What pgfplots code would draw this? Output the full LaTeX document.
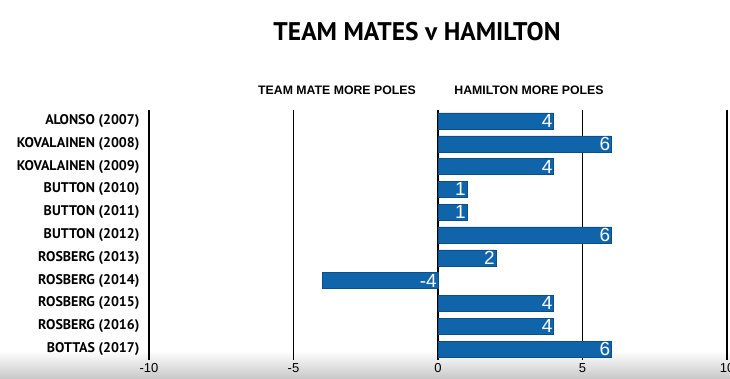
\documentclass[border=0pt]{standalone}
\usepackage{pgfplots}
\pgfplotsset{compat=1.18}
\usepackage{fontspec}
\setmainfont{Liberation Sans}
\newfontfamily\dinfont{PT Sans}
\definecolor{barblue}{HTML}{1065AA}
\definecolor{baredge}{HTML}{0B4F8A}
\begin{document}
\begin{tikzpicture}
\useasboundingbox (0pt,0pt) rectangle (730pt,379pt);
\shade[top color=white, bottom color=black!22] (0pt,0pt) rectangle (730pt,28pt);
\begin{axis}[
  at={(149pt,19pt)}, anchor=south west,
  scale only axis, width=578pt, height=250pt,
  xmin=-10, xmax=10, ymin=-0.48, ymax=10.48, y dir=reverse,
  axis line style={draw=none},
  xtick={-10,-5,0,5,10}, xmajorgrids, grid style={black, line width=1.1pt},
  major tick length=0pt,
  ytick={0,...,10},
  yticklabels={ALONSO (2007),KOVALAINEN (2008),KOVALAINEN (2009),BUTTON (2010),BUTTON (2011),BUTTON (2012),ROSBERG (2013),ROSBERG (2014),ROSBERG (2015),ROSBERG (2016),BOTTAS (2017)},
  yticklabel style={font=\dinfont\bfseries\fontsize{14}{14}\selectfont, xshift=-6pt},
  xticklabel style={font=\fontsize{13}{13}\selectfont, yshift=-2pt, inner sep=1pt},
  /pgf/number format/assume math mode=true,
  clip=false,
]
\addplot[xbar, bar width=16pt, fill=barblue, draw=baredge] coordinates {(4,0)(6,1)(4,2)(1,3)(1,4)(6,5)(2,6)(-4,7)(4,8)(4,9)(6,10)};
\addplot[draw=none, mark=none, point meta=explicit symbolic, nodes near coords,
  nodes near coords style={anchor=east, text=white, font=\fontsize{19}{19}\selectfont, inner sep=1pt}]
  coordinates {(4,0)[4] (6,1)[6] (4,2)[4] (1,3)[1] (1,4)[1] (6,5)[6] (2,6)[2] (0,7)[-4] (4,8)[4] (4,9)[4] (6,10)[6]};
\end{axis}
\node[font=\dinfont\bfseries\fontsize{25.5}{26}\selectfont] at (417pt,347pt) {TEAM MATES v HAMILTON};
\node[font=\bfseries\fontsize{12.3}{13}\selectfont] at (337pt,289pt) {TEAM MATE MORE POLES};
\node[font=\bfseries\fontsize{12.3}{13}\selectfont] at (529pt,289pt) {HAMILTON MORE POLES};
\end{tikzpicture}
\end{document}
